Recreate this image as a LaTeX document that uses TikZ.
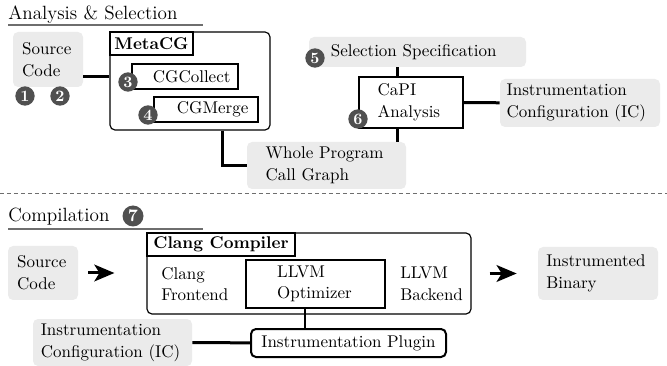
\documentclass[tikz,border=0pt]{standalone}
\usetikzlibrary{arrows.meta}

\definecolor{boxgray}{RGB}{235,235,235}
\definecolor{badgegray}{RGB}{80,80,80}
\definecolor{rulegray}{RGB}{110,110,110}

\tikzset{
  txt/.style={font=\fontsize{10.2}{13}\selectfont},
  gbox/.style={txt, fill=boxgray, rounded corners=3pt, align=left, inner ysep=0pt},
  wbox/.style={txt, draw, line width=0.7pt, fill=white, align=left, inner ysep=0pt},
  lbl/.style={txt, draw, line width=0.7pt, fill=white, font=\fontsize{10.2}{13}\selectfont\bfseries,
    anchor=north west, minimum width=49.8pt, minimum height=13.8pt, inner sep=0pt},
  badge/.style={circle, fill=badgegray, text=white, inner sep=0pt, minimum size=11.6pt,
    font=\fontsize{9.5}{9.5}\selectfont\bfseries},
  title/.style={font=\fontsize{11.5}{13}\selectfont, anchor=base west, inner sep=0pt},
  link/.style={line width=1.8pt},
  flow/.style={line width=1.8pt, -{Stealth[length=12pt, width=10pt, inset=3pt]}},
}

\begin{document}
\begin{tikzpicture}[x=0.6pt, y=-0.6pt]
  \useasboundingbox (0,0) rectangle (667,366);

  % analysis and selection
  \node[title] (titleana) at (8,20) {Analysis \& Selection};
  \draw[rulegray, line width=1pt] (titleana.base west) ++(0,5) -- ++(195,0);

  \node[gbox, minimum width=42pt, minimum height=33pt, text width=31pt, inner xsep=5.5pt] (src1) at (48,59.5) {Source\\Code};
  \node[badge] (b1) at (25,96) {1};
  \node[badge] (b2) at (60,96) {2};

  \node[draw, line width=0.7pt, rounded corners=3pt, minimum width=96pt, minimum height=58.8pt] (meta) at (190,81) {};
  \node[lbl] (metalbl) at (meta.north west) {MetaCG};
  \node[wbox, minimum width=63.6pt, minimum height=15pt, inner xsep=0pt] (cgcollect) at (185,76.5) {\hspace*{8pt}CGCollect};
  \node[badge] (b3) at (128,82) {3};
  \node[wbox, minimum width=62.4pt, minimum height=15pt, inner xsep=0pt] (cgmerge) at (206,109.5) {\hspace*{8pt}CGMerge};
  \node[badge] (b4) at (148,115) {4};

  \node[gbox, minimum width=95.4pt, minimum height=28.2pt, text width=73pt, inner xsep=11.2pt] (wpcg) at (326.5,165.5) {Whole Program\\Call Graph};

  \node[gbox, minimum width=130.2pt, minimum height=18pt, text width=104pt, inner xsep=13.1pt] (selspec) at (417.5,52) {Selection Specification};
  \node[badge] (b5) at (315,58) {5};

  \node[wbox, minimum width=62.4pt, minimum height=30.6pt, text width=40pt, inner xsep=11.2pt] (capi) at (411,102.5) {CaPI\\Analysis};
  \node[badge] (b6) at (358,119) {6};

  \node[gbox, minimum width=96pt, minimum height=28.8pt, text width=88pt, inner xsep=4pt] (ic1) at (580,103) {Instrumentation\\Configuration (IC)};

  \draw[link] (src1.east |- cgcollect) -- (meta.west |- cgcollect);
  \draw[link] ([xshift=19.2pt]meta.south) |- (wpcg.west);
  \draw[link] ([xshift=-8.4pt]capi.north) -- ([xshift=-8.4pt]capi.north |- selspec.south);
  \draw[link] ([xshift=-8.4pt]capi.south) -- ([xshift=-8.4pt]capi.south |- wpcg.north);
  \draw[link] (capi) -- (ic1);

  \draw[rulegray, line width=0.6pt, dash pattern=on 2.4pt off 1.8pt] (0,194) -- (667,194);

  % compilation
  \node[title] (titlecomp) at (8,222) {Compilation};
  \node[badge, minimum size=12.6pt, font=\fontsize{10.5}{10.5}\selectfont\bfseries] (b7) at (133,216) {7};
  \draw[rulegray, line width=1pt] (titlecomp.base west) ++(0,7) -- ++(195,0);

  \node[gbox, minimum width=42pt, minimum height=32.4pt, text width=31pt, inner xsep=5.5pt] (src2) at (43,273) {Source\\Code};

  \node[draw, line width=0.7pt, rounded corners=3pt, minimum width=194.4pt, minimum height=48.6pt] (clang) at (309,273.5) {};
  \node[lbl, minimum width=88.8pt] (clanglbl) at (clang.north west) {Clang Compiler};
  \node[txt, align=left, anchor=west, inner sep=0pt] (frontend) at (161,284) {Clang\\Frontend};
  \node[wbox, minimum width=83.4pt, minimum height=28.8pt, text width=46pt, inner xsep=18.7pt] (llvmopt) at (315.5,284) {LLVM\\Optimizer};
  \node[txt, align=left, anchor=west, inner sep=0pt] (backend) at (400,284) {LLVM\\Backend};

  \node[gbox, minimum width=72pt, minimum height=31.8pt, text width=62pt, inner xsep=5pt] (ibin) at (598,273.5) {Instrumented\\Binary};

  \node[gbox, minimum width=95.4pt, minimum height=28.2pt, text width=86pt, inner xsep=4.7pt] (ic2) at (112.5,342.5) {Instrumentation\\Configuration (IC)};
  \node[txt, draw, line width=1.2pt, rounded corners=3pt, minimum width=117pt, minimum height=16.8pt, inner sep=0pt] (plugin) at (348.5,343) {Instrumentation Plugin};

  \draw[flow, shorten <=6pt, shorten >=19.2pt] (src2) -- (clang.west |- src2);
  \draw[flow, shorten <=10.8pt, shorten >=12.6pt] (clang.east |- ibin) -- (ibin);
  \draw[link] (ic2) -- (plugin);
  \draw[line width=1.4pt] ([xshift=-6.3pt]llvmopt.south) -- ([xshift=-6.3pt]llvmopt.south |- plugin.north);
\end{tikzpicture}
\end{document}
